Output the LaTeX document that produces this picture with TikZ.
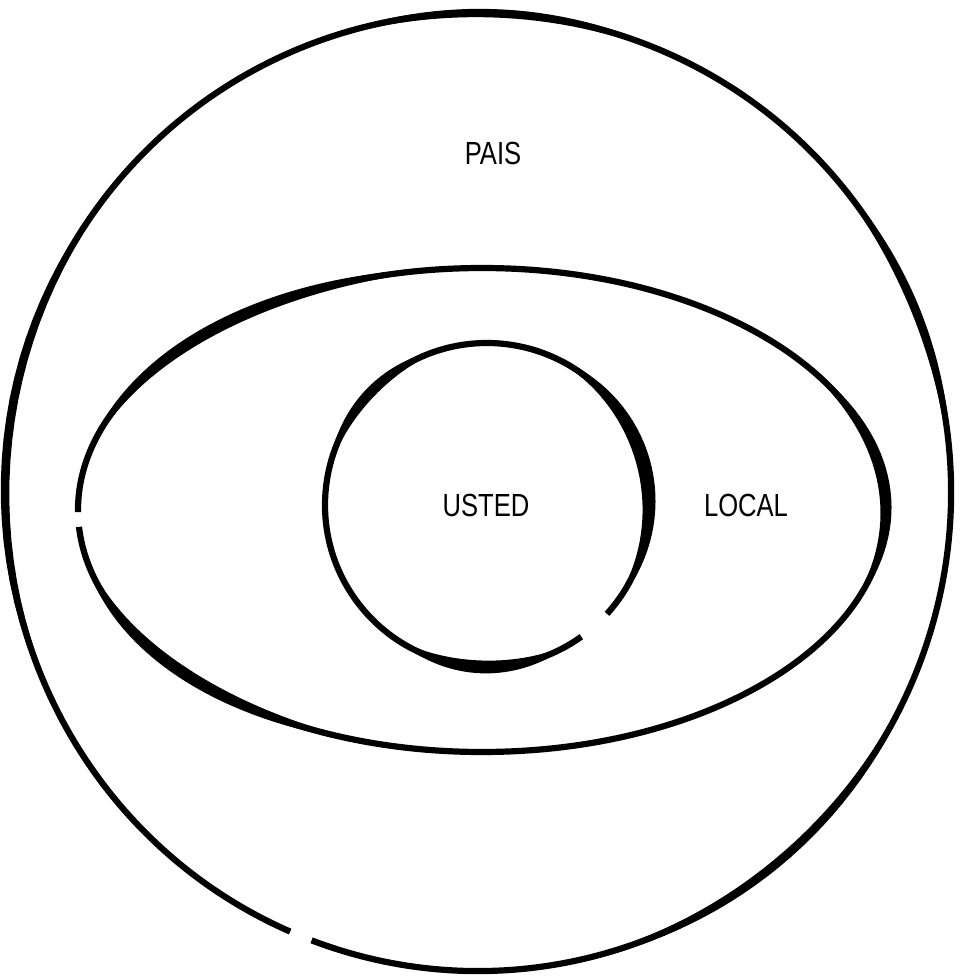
\documentclass[tikz,border=0pt]{standalone}
\usepackage{fontspec}
\setmainfont{Liberation Sans}
\usetikzlibrary{calc}

% thick brush part along an ellipse: cx, cy, rx, ry, from, to, half width
\newcommand{\swell}[7]{%
  \fill[black] plot[domain=#5:#6, samples=40]
    ({#1+(#3+#7*sin((\x-#5)/(#6-#5)*180))*cos(\x)}, {#2+(#4+#7*sin((\x-#5)/(#6-#5)*180))*sin(\x)})
    -- plot[domain=#6:#5, samples=40]
    ({#1+(#3-#7*sin((\x-#5)/(#6-#5)*180))*cos(\x)}, {#2+(#4-#7*sin((\x-#5)/(#6-#5)*180))*sin(\x)})
    -- cycle;}

\begin{document}
\begin{tikzpicture}[
  x=0.5pt, y=-0.5pt,
  ring/.style={draw, line width=3.1pt},
  lbl/.style={font=\fontsize{16}{18}\selectfont, xscale=0.8, inner sep=0pt},
]
  \useasboundingbox[fill=white] (0,0) rectangle (959,978);

  \coordinate (cpais) at (478,492);
  \coordinate (clocal) at (482,510);
  \coordinate (cyou) at (487,505);

  % outer circle
  \draw[ring] (cpais) ++(113.4:473 and 479)
    arc[start angle=113.4, end angle=470.6, x radius=473, y radius=479];
  \swell{478}{492}{473}{479}{140}{235}{4.4}
  \swell{478}{492}{473}{479}{245}{300}{4.2}
  \swell{478}{492}{473}{479}{315}{360}{4.4}
  \swell{478}{492}{473}{479}{15}{85}{4.4}

  % eye shape
  \draw[ring] (clocal) ++(179.5:404 and 242)
    arc[start angle=179.5, end angle=536, x radius=404, y radius=242];
  \swell{482}{510}{404}{242}{190}{268}{6}
  \swell{482}{510}{404}{242}{318}{388}{5.8}
  \swell{482}{510}{404}{242}{105}{172}{6.2}

  % inner circle
  \draw[ring] (cyou) ++(54.4:162)
    arc[start angle=54.4, end angle=402.2, radius=162];
  \swell{487}{505}{162}{162}{290}{402}{7}
  \swell{487}{505}{162}{162}{58}{125}{6.4}
  \swell{487}{505}{162}{162}{192}{255}{5.2}

  \node[lbl] (pais) at (493,153) {PAIS};
  \node[lbl] (usted) at (486,505) {USTED};
  \node[lbl] (local) at (746,505) {LOCAL};
\end{tikzpicture}
\end{document}
